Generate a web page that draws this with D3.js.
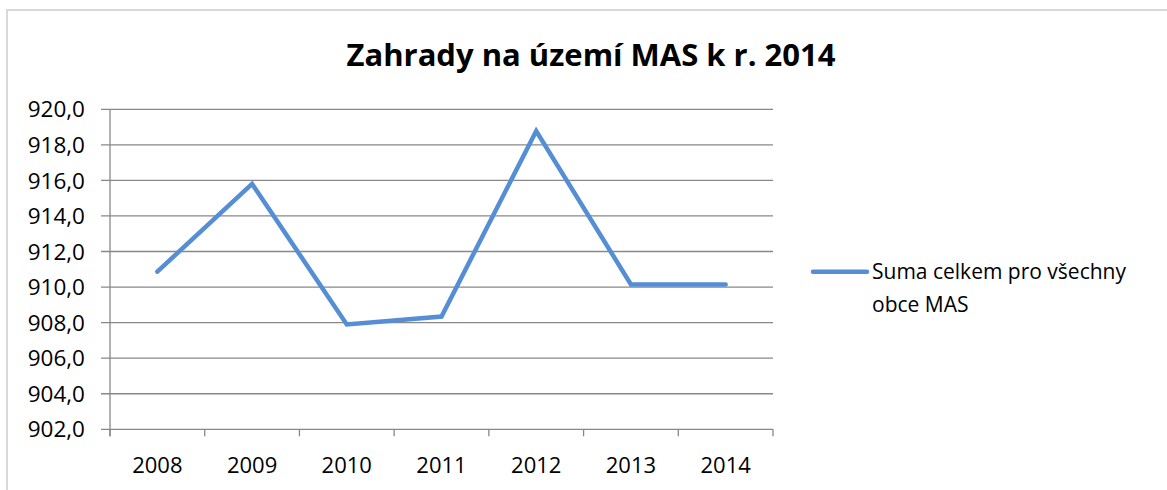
<!DOCTYPE html>
<html>
<head>
<meta charset="utf-8">
<script src="https://cdn.jsdelivr.net/npm/d3@7"></script>
<style>
  body { margin: 0; background: #fff; }
  text { font-family: "Open Sans", sans-serif; fill: #000; }
</style>
</head>
<body>
<svg width="1167" height="490"></svg>
<script>
var years = ['2008', '2009', '2010', '2011', '2012', '2013', '2014'];
var values = [910.87, 915.8, 907.9, 908.34, 918.78, 910.15, 910.15];
var yTicks = [902, 904, 906, 908, 910, 912, 914, 916, 918, 920];
var seriesName = ['Suma celkem pro všechny', 'obce MAS'];
var title = 'Zahrady na území MAS k r. 2014';

var svg = d3.select("svg");

// chart frame (only top/left visible in window)
svg.append("rect")
    .attr("x", 7).attr("y", 10)
    .attr("width", 1200).attr("height", 520)
    .attr("fill", "none")
    .attr("stroke", "#d9d9d9")
    .attr("stroke-width", 2);

var margin = { top: 109.3, left: 110 };
var width = 663, height = 320;
var g = svg.append("g").attr("transform", "translate(" + margin.left + "," + margin.top + ")");

var xScale = d3.scaleBand().domain(years).range([0, width]);
var yScale = d3.scaleLinear().domain([902, 920]).range([height, 0]);

// gridlines
g.selectAll(".grid").data(yTicks).enter().append("line")
    .attr("class", "grid")
    .attr("x1", -9).attr("x2", width)
    .attr("y1", function (d) { return yScale(d); })
    .attr("y2", function (d) { return yScale(d); })
    .attr("stroke", "#888")
    .attr("stroke-width", 1.3);

// y axis
g.append("line")
    .attr("x1", 0).attr("x2", 0)
    .attr("y1", 0).attr("y2", height + 7)
    .attr("stroke", "#888").attr("stroke-width", 1.3);

g.selectAll(".ylab").data(yTicks).enter().append("text")
    .attr("class", "ylab")
    .attr("x", -25)
    .attr("y", function (d) { return yScale(d); })
    .attr("dy", "0.36em")
    .attr("text-anchor", "end")
    .style("font-size", "22.5px")
    .text(function (d) { return d3.format(".1f")(d).replace(".", ","); });

// x tick marks at category boundaries
var bounds = years.map(function (d) { return xScale(d); }).concat([width]);
g.selectAll(".xtick").data(bounds).enter().append("line")
    .attr("class", "xtick")
    .attr("x1", function (d) { return d; }).attr("x2", function (d) { return d; })
    .attr("y1", height).attr("y2", height + 7)
    .attr("stroke", "#888").attr("stroke-width", 1.3);

g.selectAll(".xlab").data(years).enter().append("text")
    .attr("class", "xlab")
    .attr("x", function (d) { return xScale(d) + xScale.bandwidth() / 2; })
    .attr("y", height + 36)
    .attr("dy", "0.36em")
    .attr("text-anchor", "middle")
    .style("font-size", "22px")
    .text(function (d) { return d; });

// series line
var line = d3.line()
    .x(function (d, i) { return xScale(years[i]) + xScale.bandwidth() / 2; })
    .y(function (d) { return yScale(d); });

g.append("path")
    .attr("d", line(values))
    .attr("fill", "none")
    .attr("stroke", "#558ed5")
    .attr("stroke-width", 4.5)
    .attr("stroke-linecap", "round")
    .attr("stroke-linejoin", "miter");

// title
svg.append("text")
    .attr("x", 591)
    .attr("y", 66)
    .attr("text-anchor", "middle")
    .style("font-size", "31px")
    .style("font-weight", "bold")
    .text(title);

// legend
var legend = svg.append("g").attr("transform", "translate(813,271.7)");
legend.append("line")
    .attr("x1", 0).attr("x2", 54)
    .attr("stroke", "#558ed5")
    .attr("stroke-width", 4.5)
    .attr("stroke-linecap", "round");
legend.selectAll("text").data(seriesName).enter().append("text")
    .attr("x", 59)
    .attr("y", function (d, i) { return 7.5 + i * 33; })
    .style("font-size", "21px")
    .text(function (d) { return d; });
</script>
</body>
</html>
